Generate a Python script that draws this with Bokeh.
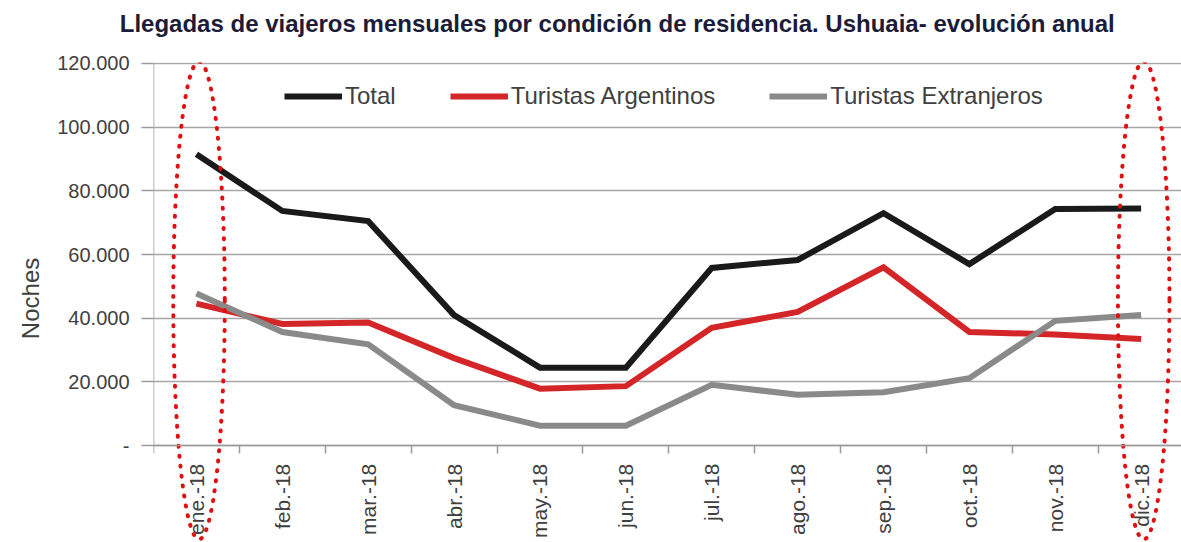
import numpy as np
from bokeh.plotting import figure
from bokeh.models import Range1d, FixedTicker, Legend, LegendItem, LinearAxis
from bokeh.embed import file_html
from bokeh.resources import INLINE

# ---- data ----
months = ["ene.-18", "feb.-18", "mar.-18", "abr.-18", "may.-18", "jun.-18",
          "jul.-18", "ago.-18", "sep.-18", "oct.-18", "nov.-18", "dic.-18"]
total = [91500, 73700, 70500, 41000, 24500, 24500, 55800, 58300, 73000, 57000, 74300, 74500]
argentinos = [44600, 38200, 38700, 27500, 17900, 18700, 37000, 42000, 56000, 35700, 34900, 33500]
extranjeros = [47800, 35700, 31800, 12700, 6300, 6300, 19100, 16000, 16800, 21200, 39200, 41000]
y_ticks = [0, 20000, 40000, 60000, 80000, 100000, 120000]
y_tick_labels = ["-", "20.000", "40.000", "60.000", "80.000", "100.000", "120.000"]
highlight = ["ene.-18", "dic.-18"]
title_text = "Llegadas de viajeros mensuales por condición de residencia. Ushuaia- evolución anual"
y_title = "Noches"

FONT = "Liberation Sans"
TXT = "#404040"
AX = "#9a9a9a"
x = list(range(len(months)))

W, H = 1181, 542
TOP, LEFT = 62, 152
data_px = 383                      # pixels for 0..120000
y_max = 120000
y_min = -(H - TOP - data_px) * y_max / data_px
TITLE_POS = 4.9                    # horizontal anchor of the title (x units)
YTITLE_POS = 59000                 # vertical anchor of the y title (y units)

p = figure(width=W, height=H, output_backend="svg", toolbar_location=None,
           x_range=Range1d(-0.5, 11.47), y_range=Range1d(y_min, y_max + 300),
           min_border_left=LEFT, min_border_right=0, min_border_top=TOP, min_border_bottom=0)
p.outline_line_color = None
p.background_fill_color = "white"
p.border_fill_color = "white"

# y grid
p.xgrid.grid_line_color = None
p.ygrid.ticker = FixedTicker(ticks=y_ticks)
p.ygrid.grid_line_color = "#a6a6a6"
p.ygrid.grid_line_width = 1.5

# y-axis line only over the data area
p.segment(x0=[-0.5], y0=[y_ticks[0]], x1=[-0.5], y1=[y_ticks[-1]], line_color=AX, line_width=1.5)

# lines
r_tot = p.line(x, total, line_color="#1a1a1a", line_width=6, line_join="miter")
r_arg = p.line(x, argentinos, line_color="#d42628", line_width=6, line_join="miter")
r_ext = p.line(x, extranjeros, line_color="#8a8a8a", line_width=6, line_join="miter")

# dotted ellipses
hx = [months.index(m) + 0.03 for m in highlight]
p.ellipse(x=hx, y=[45600] * len(hx), width=0.60, height=150000, fill_alpha=0,
          line_color="#e01010", line_width=4, line_dash="1 9", line_cap="round")

# x axis drawn at y = 0 inside the frame
xa = p.xaxis[0]
xa.fixed_location = 0
xa.ticker = FixedTicker(ticks=x, minor_ticks=[i - 0.5 for i in range(len(months) + 1)])
xa.major_label_overrides = {i: m for i, m in enumerate(months)}
xa.major_label_orientation = np.pi / 2
xa.major_tick_line_color = None
xa.major_tick_out = 0
xa.major_tick_in = 0
xa.minor_tick_line_color = AX
xa.minor_tick_line_width = 1.5
xa.minor_tick_out = 8
xa.minor_tick_in = 0
xa.axis_line_color = AX
xa.axis_line_width = 1.5
xa.major_label_standoff = 10
xa.major_label_text_font = FONT
xa.major_label_text_font_size = "21px"
xa.major_label_text_color = TXT

# y axis
ya = p.yaxis[0]
ya.ticker = FixedTicker(ticks=y_ticks, minor_ticks=[])
ya.major_label_overrides = {t: l for t, l in zip(y_ticks, y_tick_labels)}
ya.major_tick_out = 12
ya.major_tick_in = 0
ya.major_tick_line_color = AX
ya.major_tick_line_width = 1.5
ya.axis_line_color = None
ya.major_label_standoff = 12
ya.major_label_text_font = FONT
ya.major_label_text_font_size = "20px"
ya.major_label_text_color = TXT

# y title as an outer axis label
yt = LinearAxis(ticker=FixedTicker(ticks=[YTITLE_POS], minor_ticks=[]),
                major_label_overrides={YTITLE_POS: y_title},
                major_label_orientation=np.pi / 2, axis_line_color=None,
                major_tick_line_color=None, minor_tick_line_color=None,
                major_tick_out=0, major_tick_in=0, major_label_standoff=24,
                major_label_text_font=FONT, major_label_text_font_size="24px",
                major_label_text_color=TXT)
p.add_layout(yt, "left")

# chart title as a top axis label
tt = LinearAxis(ticker=FixedTicker(ticks=[TITLE_POS], minor_ticks=[]),
                major_label_overrides={TITLE_POS: title_text},
                axis_line_color=None, major_tick_line_color=None, minor_tick_line_color=None,
                major_tick_out=0, major_tick_in=0, major_label_standoff=26,
                major_label_text_font=FONT, major_label_text_font_size="24px",
                major_label_text_font_style="bold", major_label_text_color="#1c1c38")
p.add_layout(tt, "above")

legend = Legend(items=[LegendItem(label="Total", renderers=[r_tot]),
                       LegendItem(label="Turistas Argentinos", renderers=[r_arg]),
                       LegendItem(label="Turistas Extranjeros", renderers=[r_ext])],
                orientation="horizontal", location=(131, 335 + (H - TOP - data_px)),
                glyph_width=58, glyph_height=20, label_height=20, label_standoff=3,
                spacing=54, padding=0, margin=0, border_line_color=None,
                background_fill_alpha=0, label_text_font=FONT,
                label_text_font_size="24px", label_text_color=TXT)
p.add_layout(legend)

open("out.html", "w").write(file_html(p, INLINE))
